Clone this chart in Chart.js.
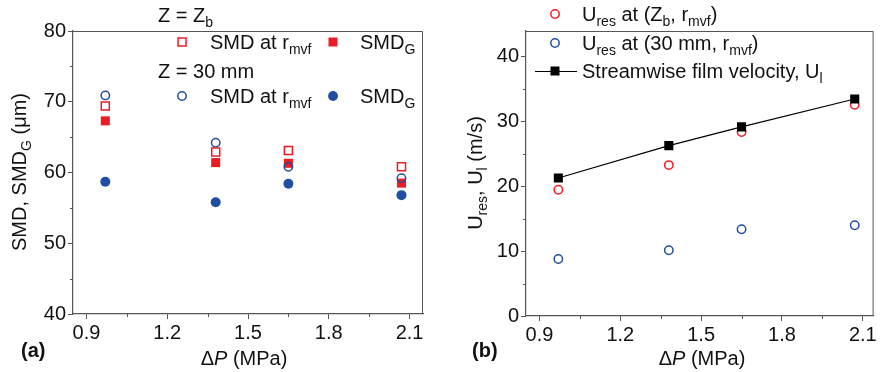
<!DOCTYPE html>
<html>
<head>
<meta charset="utf-8">
<script src="https://cdn.jsdelivr.net/npm/chart.js@4.4.1/dist/chart.umd.min.js"></script>
<style>
  body { margin: 0; background: #fff; }
  #wrap { position: relative; width: 880px; height: 372px; }
  canvas { position: absolute; top: 0; }
</style>
</head>
<body>
<div id="wrap">
  <canvas id="chartA" width="440" height="372" style="left:0"></canvas>
  <canvas id="chartB" width="440" height="372" style="left:440px"></canvas>
</div>
<script>
// Data
const pressure = [0.97, 1.38, 1.65, 2.07];          // ΔP (MPa)
const smdRmvfZb = [69.4, 62.9, 63.1, 60.8];         // SMD at r_mvf, Z = Zb
const smdGZb = [67.3, 61.4, 61.3, 58.5];            // SMD_G, Z = Zb
const smdRmvf30 = [70.9, 64.2, 60.8, 59.2];         // SMD at r_mvf, Z = 30 mm
const smdG30 = [58.7, 55.8, 58.4, 56.8];            // SMD_G, Z = 30 mm
const uresZb = [19.5, 23.3, 28.4, 32.6];            // U_res at (Zb, r_mvf)
const ures30 = [8.8, 10.15, 13.4, 14.0];            // U_res at (30 mm, r_mvf)
const filmVel = [21.3, 26.3, 29.2, 33.5];           // streamwise film velocity U_l

const xTicks = [0.9, 1.2, 1.5, 1.8, 2.1];
const xMinor = [1.05, 1.35, 1.65, 1.95];
const yTicksA = [40, 50, 60, 70, 80];
const yMinorA = [45, 55, 65, 75];
const yTicksB = [0, 10, 20, 30, 40];
const yMinorB = [5, 15, 25, 35];

const RED = '#ec1c24';
const BLUE = '#1f4fa0';
const AXIS = '#555';
const FONT = "'Liberation Sans', Arial, sans-serif";

const pts = ys => ys.map((y, i) => ({ x: pressure[i], y: y }));

// draws text made of normal / subscript / italic parts
function richText(ctx, x, y, parts, align) {
  const seg = parts.map(p => {
    const size = p.sub ? 14 : 20;
    const font = (p.it ? 'italic ' : '') + (p.b ? 'bold ' : '') + size + 'px ' + FONT;
    ctx.font = font;
    return { t: p.t, font: font, dy: p.sub ? 5 : 0, w: ctx.measureText(p.t).width };
  });
  const total = seg.reduce((a, s) => a + s.w, 0);
  let cx = align === 'center' ? x - total / 2 : x;
  ctx.textAlign = 'left';
  ctx.textBaseline = 'alphabetic';
  seg.forEach(s => {
    ctx.font = s.font;
    ctx.fillText(s.t, cx, y + s.dy);
    cx += s.w;
  });
}

function marker(ctx, style, x, y, color, filled) {
  ctx.save();
  ctx.strokeStyle = color;
  ctx.fillStyle = color;
  ctx.lineWidth = 1.5;
  ctx.beginPath();
  if (style === 'rect') {
    const h = filled ? 4.5 : 4;
    ctx.rect(x - h, y - h, 2 * h, 2 * h);
  } else {
    ctx.arc(x, y, filled ? 4.9 : 4.2, 0, Math.PI * 2);
  }
  if (filled) ctx.fill(); else ctx.stroke();
  ctx.restore();
}

function frameAndMinor(chart, yMinor) {
  const ctx = chart.ctx;
  const a = chart.chartArea;
  const xs = chart.scales.x, ys = chart.scales.y;
  ctx.save();
  ctx.strokeStyle = AXIS;
  ctx.lineWidth = 1;
  ctx.beginPath();
  ctx.moveTo(a.left, a.top + 0.5);
  ctx.lineTo(a.right - 0.5, a.top + 0.5);
  ctx.lineTo(a.right - 0.5, a.bottom);
  xMinor.forEach(v => {
    const px = Math.round(xs.getPixelForValue(v)) + 0.5;
    ctx.moveTo(px, a.bottom);
    ctx.lineTo(px, a.bottom + 3);
  });
  yMinor.forEach(v => {
    const py = Math.round(ys.getPixelForValue(v)) + 0.5;
    ctx.moveTo(a.left, py);
    ctx.lineTo(a.left - 3, py);
  });
  ctx.stroke();
  ctx.restore();
}

function axisCommon(min, max, ticks, fmt, fit, isX) {
  return {
    type: 'linear',
    min: min,
    max: max,
    afterBuildTicks: s => { s.ticks = ticks.map(v => ({ value: v })); },
    afterFit: s => { if (isX) s.height = fit; else s.width = fit; },
    ticks: {
      color: '#111',
      font: { family: FONT, size: 20 },
      padding: 2,
      maxRotation: 0,
      autoSkip: false,
      callback: fmt
    },
    grid: { drawOnChartArea: false, tickLength: 5, color: AXIS, tickColor: AXIS },
    border: { color: AXIS, width: 1.2 }
  };
}

const overlayA = {
  id: 'overlayA',
  afterDraw(chart) {
    frameAndMinor(chart, yMinorA);
    const ctx = chart.ctx;
    ctx.save();
    ctx.fillStyle = '#111';
    richText(ctx, 158, 22, [{ t: 'Z = Z' }, { t: 'b', sub: true }]);
    marker(ctx, 'rect', 182, 42, RED, false);
    richText(ctx, 210, 49, [{ t: 'SMD at r' }, { t: 'mvf', sub: true }]);
    marker(ctx, 'rect', 333, 42, RED, true);
    richText(ctx, 360, 49, [{ t: 'SMD' }, { t: 'G', sub: true }]);
    richText(ctx, 158, 78, [{ t: 'Z = 30 mm' }]);
    marker(ctx, 'circle', 182, 96, BLUE, false);
    richText(ctx, 210, 103, [{ t: 'SMD at r' }, { t: 'mvf', sub: true }]);
    marker(ctx, 'circle', 333, 96, BLUE, true);
    richText(ctx, 360, 103, [{ t: 'SMD' }, { t: 'G', sub: true }]);
    // axis titles
    richText(ctx, 244, 365, [{ t: 'Δ' }, { t: 'P', it: true }, { t: ' (MPa)' }], 'center');
    richText(ctx, 21, 357, [{ t: '(a)', b: true }]);
    ctx.translate(26, 172);
    ctx.rotate(-Math.PI / 2);
    richText(ctx, 0, 0, [{ t: 'SMD, SMD' }, { t: 'G', sub: true }, { t: ' (μm)' }], 'center');
    ctx.restore();
  }
};

const overlayB = {
  id: 'overlayB',
  afterDraw(chart) {
    frameAndMinor(chart, yMinorB);
    const ctx = chart.ctx;
    ctx.save();
    ctx.fillStyle = '#111';
    marker(ctx, 'circle', 115, 14, RED, false);
    richText(ctx, 142, 21, [{ t: 'U' }, { t: 'res', sub: true }, { t: ' at (Z' }, { t: 'b', sub: true }, { t: ', r' }, { t: 'mvf', sub: true }, { t: ')' }]);
    marker(ctx, 'circle', 115, 43, BLUE, false);
    richText(ctx, 142, 50, [{ t: 'U' }, { t: 'res', sub: true }, { t: ' at (30 mm, r' }, { t: 'mvf', sub: true }, { t: ')' }]);
    ctx.strokeStyle = '#000';
    ctx.lineWidth = 1.2;
    ctx.beginPath();
    ctx.moveTo(95, 71.5);
    ctx.lineTo(137, 71.5);
    ctx.stroke();
    ctx.fillStyle = '#000';
    ctx.fillRect(110.5, 66.5, 9, 9);
    ctx.fillStyle = '#111';
    richText(ctx, 142, 78, [{ t: 'Streamwise film velocity, U' }, { t: 'l', sub: true }]);
    richText(ctx, 262, 365, [{ t: 'Δ' }, { t: 'P', it: true }, { t: ' (MPa)' }], 'center');
    richText(ctx, 32, 357, [{ t: '(b)', b: true }]);
    ctx.translate(42, 173);
    ctx.rotate(-Math.PI / 2);
    richText(ctx, 0, 0, [{ t: 'U' }, { t: 'res', sub: true }, { t: ', U' }, { t: 'l', sub: true }, { t: ' (m/s)' }], 'center');
    ctx.restore();
  }
};

const chartA = new Chart(document.getElementById('chartA'), {
  type: 'scatter',
  data: {
    datasets: [
      { label: 'SMD at rmvf (Z = Zb)', data: pts(smdRmvfZb), pointStyle: 'rect', pointRadius: 5.7,
        borderColor: RED, backgroundColor: 'rgba(0,0,0,0)', pointBorderWidth: 1.5 },
      { label: 'SMD at rmvf (Z = 30 mm)', data: pts(smdRmvf30), pointStyle: 'circle', pointRadius: 4.2,
        borderColor: BLUE, backgroundColor: 'rgba(0,0,0,0)', pointBorderWidth: 1.5 },
      { label: 'SMDG (Z = Zb)', data: pts(smdGZb), pointStyle: 'rect', pointRadius: 6.4,
        borderColor: RED, backgroundColor: RED, pointBorderWidth: 0 },
      { label: 'SMDG (Z = 30 mm)', data: pts(smdG30), pointStyle: 'circle', pointRadius: 5,
        borderColor: BLUE, backgroundColor: BLUE, pointBorderWidth: 0 }
    ]
  },
  options: {
    responsive: false,
    animation: false,
    layout: { padding: { top: 31, right: 17, left: 0, bottom: 0 } },
    plugins: { legend: { display: false }, tooltip: { enabled: false } },
    scales: {
      x: axisCommon(0.85, 2.15, xTicks, v => v.toFixed(1), 58, true),
      y: axisCommon(40, 80, yTicksA, v => String(v), 73, false)
    }
  },
  plugins: [overlayA]
});

const chartB = new Chart(document.getElementById('chartB'), {
  type: 'scatter',
  data: {
    datasets: [
      { label: 'Streamwise film velocity', data: pts(filmVel), showLine: true, borderColor: '#000',
        borderWidth: 1.2, pointStyle: 'rect', pointRadius: 6.4, backgroundColor: '#000', pointBorderWidth: 0 },
      { label: 'Ures at (Zb, rmvf)', data: pts(uresZb), pointStyle: 'circle', pointRadius: 4.2,
        borderColor: RED, backgroundColor: 'rgba(0,0,0,0)', pointBorderWidth: 1.5 },
      { label: 'Ures at (30 mm, rmvf)', data: pts(ures30), pointStyle: 'circle', pointRadius: 4.2,
        borderColor: BLUE, backgroundColor: 'rgba(0,0,0,0)', pointBorderWidth: 1.5 }
    ]
  },
  options: {
    responsive: false,
    animation: false,
    layout: { padding: { top: 31, right: 5, left: 0, bottom: 0 } },
    plugins: { legend: { display: false }, tooltip: { enabled: false } },
    scales: {
      x: axisCommon(0.85, 2.14, xTicks, v => v.toFixed(1), 56, true),
      y: axisCommon(0, 44, yTicksB, v => String(v), 86, false)
    }
  },
  plugins: [overlayB]
});
</script>
</body>
</html>
